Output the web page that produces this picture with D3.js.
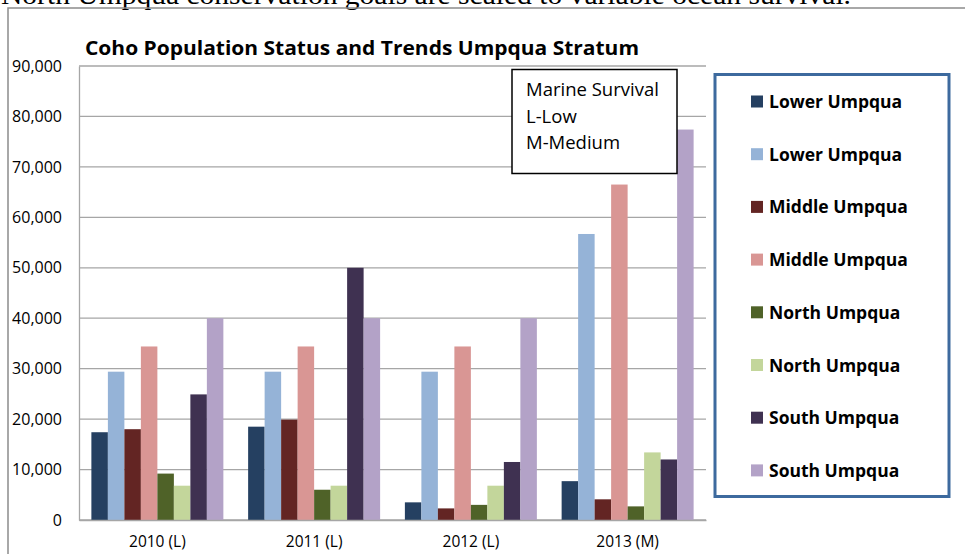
<!DOCTYPE html>
<html><head><meta charset="utf-8">
<script src="https://cdn.jsdelivr.net/npm/d3@7"></script>
<style>body{margin:0;background:#fff;}svg{display:block;}</style>
</head><body>
<svg id="chart" width="965" height="554"></svg>
<script>
const categories = ["2010 (L)", "2011 (L)", "2012 (L)", "2013 (M)"];
const seriesNames = ["Lower Umpqua","Lower Umpqua","Middle Umpqua","Middle Umpqua","North Umpqua","North Umpqua","South Umpqua","South Umpqua"];
const seriesColors = ["#254061","#95b3d7","#632523","#d99694","#4f6228","#c3d69b","#3f3151","#b3a2c7"];
const lowerDark   = [17400, 18500, 3500, 7700];
const lowerLight  = [29400, 29400, 29400, 56700];
const middleDark  = [18000, 19900, 2300, 4100];
const middleLight = [34400, 34400, 34400, 66500];
const northDark   = [9200, 6000, 3000, 2700];
const northLight  = [6800, 6800, 6800, 13400];
const southDark   = [24900, 50000, 11500, 12000];
const southLight  = [40000, 40000, 40000, 77400];
const yTicks = [0,10000,20000,30000,40000,50000,60000,70000,80000,90000];
const seriesValues = [lowerDark, lowerLight, middleDark, middleLight, northDark, northLight, southDark, southLight];

const svg = d3.select("#chart");
const plotLeft = 79, plotRight = 706, plotTop = 66, plotBottom = 520;

// top sentence (cut off at top edge, as in the source page)
svg.append("text").attr("x", 1).attr("y", 4)
  .attr("font-family", "Liberation Serif").attr("font-size", 27)
  .attr("textLength", 850).attr("lengthAdjust", "spacingAndGlyphs")
  .text("North Umpqua conservation goals are scaled to variable ocean survival.");

// outer frame
svg.append("rect").attr("x", 8).attr("y", 8).attr("width", 1000).attr("height", 600)
  .attr("fill", "none").attr("stroke", "#8c8c8c").attr("stroke-width", 1.5);

const x0 = d3.scaleBand().domain(categories).range([plotLeft, plotRight]).paddingInner(0.158).paddingOuter(0.079);
const x1 = d3.scaleBand().domain(d3.range(8)).range([0, x0.bandwidth()]);
const y = d3.scaleLinear().domain([0, 90000]).range([plotBottom, plotTop]);

// gridlines
svg.append("g").selectAll("line").data(yTicks).join("line")
  .attr("x1", plotLeft).attr("x2", plotRight)
  .attr("y1", d => y(d)).attr("y2", d => y(d))
  .attr("stroke", "#a6a6a6").attr("stroke-width", 1.3);

// y axis
const yAxis = d3.axisLeft(y).tickValues(yTicks).tickFormat(d3.format(",")).tickSize(0).tickPadding(17);
const ya = svg.append("g").attr("transform", `translate(${plotLeft},0)`).call(yAxis);
ya.select(".domain").attr("stroke", "#a6a6a6").attr("stroke-width", 1.3);
ya.selectAll("text").attr("font-family", "Open Sans").attr("font-size", 16).attr("fill", "#000");

// bars
const groups = svg.append("g").selectAll("g").data(categories).join("g")
  .attr("transform", d => `translate(${x0(d)},0)`);
groups.selectAll("rect").data((c, ci) => seriesValues.map((s, si) => ({si, v: s[ci]}))).join("rect")
  .attr("x", d => x1(d.si)).attr("width", x1.bandwidth())
  .attr("y", d => y(d.v)).attr("height", d => y(0) - y(d.v))
  .attr("fill", d => seriesColors[d.si]);

// x axis
const xAxis = d3.axisBottom(x0).tickSize(0).tickPadding(16);
const xa = svg.append("g").attr("transform", `translate(0,${plotBottom})`).call(xAxis);
xa.select(".domain").attr("stroke", "#a6a6a6").attr("stroke-width", 1.3);
xa.selectAll("text").attr("font-family", "Open Sans").attr("font-size", 15.5).attr("fill", "#000");

// title
svg.append("text").attr("x", 85).attr("y", 55)
  .attr("font-family", "Open Sans").attr("font-weight", "bold").attr("font-size", 20)
  .attr("textLength", 554).attr("lengthAdjust", "spacingAndGlyphs")
  .text("Coho Population Status and Trends Umpqua Stratum");

// annotation box
svg.append("rect").attr("x", 512).attr("y", 69.5).attr("width", 165).attr("height", 104)
  .attr("fill", "#fff").attr("stroke", "#000").attr("stroke-width", 1.5);
const notes = ["Marine Survival", "L-Low", "M-Medium"];
svg.append("g").selectAll("text").data(notes).join("text")
  .attr("x", 526).attr("y", (d, i) => 96 + i * 26.5)
  .attr("font-family", "Open Sans").attr("font-size", 18.5).attr("fill", "#000")
  .text(d => d);

// legend
svg.append("rect").attr("x", 715).attr("y", 74.5).attr("width", 234).attr("height", 422)
  .attr("fill", "#fff").attr("stroke", "#3d6a9e").attr("stroke-width", 3);
const lg = svg.append("g").selectAll("g").data(seriesNames).join("g")
  .attr("transform", (d, i) => `translate(751,${101.5 + i * 52.7})`);
lg.append("rect").attr("x", 0).attr("y", -6).attr("width", 12).attr("height", 12)
  .attr("fill", (d, i) => seriesColors[i]);
lg.append("text").attr("x", 18).attr("y", 6.5)
  .attr("font-family", "Open Sans").attr("font-weight", "bold").attr("font-size", 17.5).attr("fill", "#000")
  .text(d => d);
</script>
</body></html>
